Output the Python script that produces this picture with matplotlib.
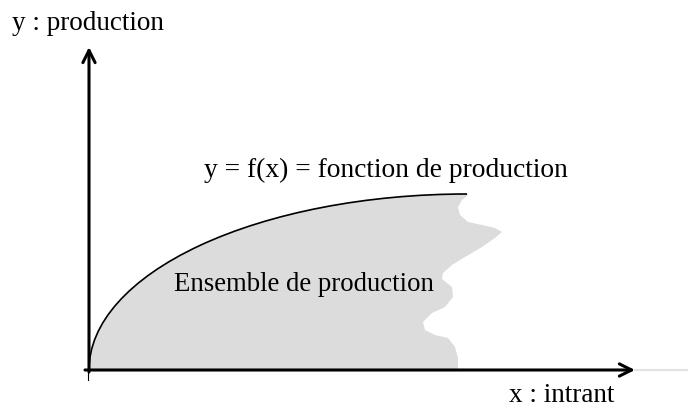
import matplotlib.pyplot as plt
from matplotlib.patches import Polygon, Ellipse, Arc

# frontier y = f(x): quarter ellipse rising from the origin to a flat top
peak_x = 378
peak_y = 176

# ragged right edge of the production set, top to bottom
edge_x = [379, 373, 369, 371, 379, 393, 406, 413, 406, 393, 376, 363, 354, 353,
          363, 364, 356, 343, 334, 336, 346, 359, 366, 369, 369]
edge_y = [175, 170, 163, 155, 148, 145, 142, 138, 132, 123, 113, 105, 97, 91,
          83, 73, 63, 57, 48, 40, 35, 32, 23, 12, 0]

x_label = "x : intrant"
y_label = "y : production"
curve_label = "y = f(x) = fonction de production"
set_label = "Ensemble de production"

plt.rcParams['font.family'] = ['Liberation Serif', 'DejaVu Serif']

fig = plt.figure(figsize=(6.88, 4.07), dpi=100)
ax = fig.add_axes([0, 0, 1, 1])
ax.set_xlim(-89, 599)
ax.set_ylim(-37, 370)
ax.axis('off')

# shaded production set = ellipse cut by the ragged edge
clip = Polygon([(0, 0), (0, 190), (edge_x[0], 190)] + list(zip(edge_x, edge_y)),
               closed=True, transform=ax.transData)
shade = Ellipse((peak_x, 0), 2 * peak_x, 2 * peak_y, facecolor='#dcdcdc',
                edgecolor='none', zorder=1)
ax.add_patch(shade)
shade.set_clip_path(clip)

ax.add_patch(Arc((peak_x, 0), 2 * peak_x, 2 * peak_y, theta1=90, theta2=180,
                 color='black', lw=1.2, zorder=3))

# axes with arrows
ax.plot([546, 599], [0, 0], color='#e2e2e2', lw=1.5, zorder=2)
ax.annotate('', xy=(546, 0), xytext=(-4, 0),
            arrowprops=dict(arrowstyle='->', lw=2.2, color='black',
                            mutation_scale=22, shrinkA=0, shrinkB=0), zorder=4)
ax.annotate('', xy=(0, 323), xytext=(0, -2),
            arrowprops=dict(arrowstyle='->', lw=2.2, color='black',
                            mutation_scale=22, shrinkA=0, shrinkB=0), zorder=4)
ax.plot([-1, -1], [0, -10], color='black', lw=0.8, zorder=4)

fs = 19.5
ax.text(-77, 340, y_label, fontsize=fs, va='baseline', ha='left')
ax.text(115, 193, curve_label, fontsize=19.8, va='baseline', ha='left')
ax.text(85, 79, set_label, fontsize=19.3, va='baseline', ha='left', zorder=5)
ax.text(420, -32, x_label, fontsize=fs, va='baseline', ha='left')

fig.savefig('out.png', dpi=100)
